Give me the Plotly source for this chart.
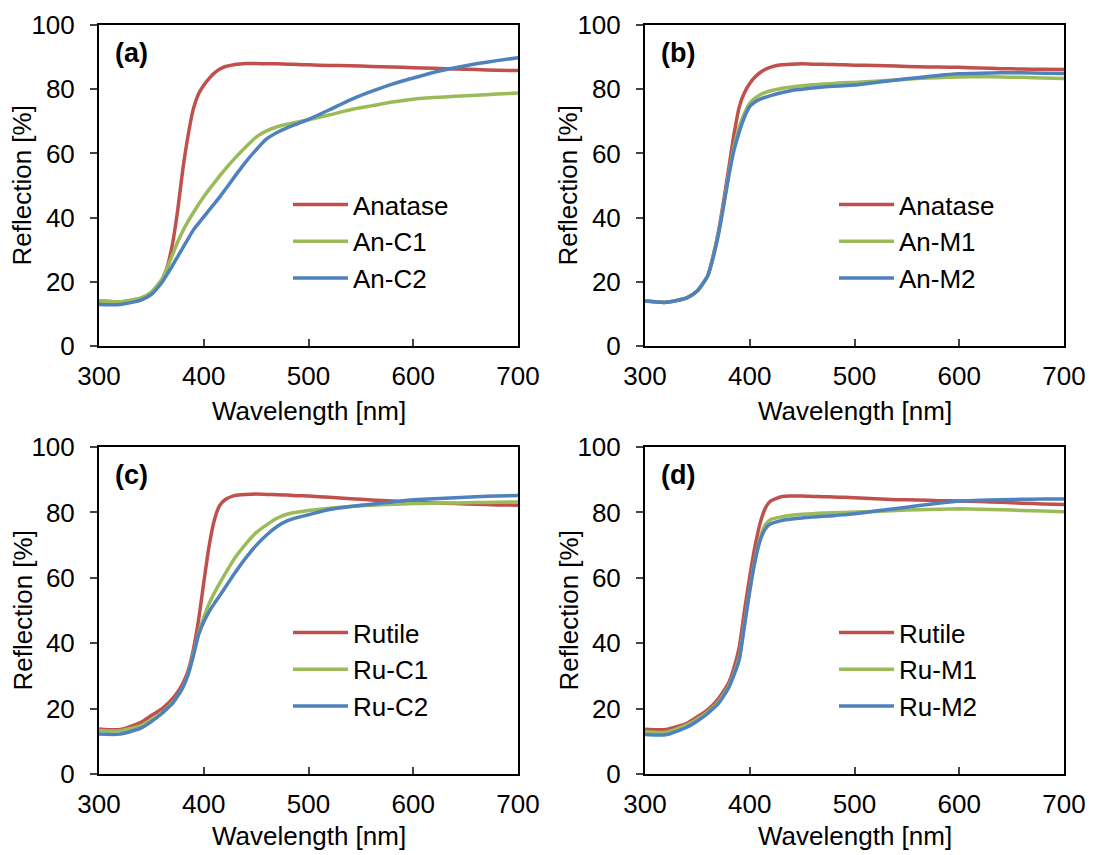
import plotly.graph_objects as go

# wavelength grid (nm)
wavelength = [300, 320, 340, 350, 360, 365, 370, 375, 380, 385, 390, 395, 400, 405, 410,
              415, 420, 430, 440, 450, 460, 470, 480, 490, 500, 520, 540, 560, 580, 600,
              620, 640, 660, 680, 700]

# (a)
anatase_a = [14.0, 13.8, 14.8, 16.3, 20.3, 24.5, 31.5, 42, 55, 65.5, 73.8, 78.5, 81.2, 83.3, 85,
             86.2, 87, 87.7, 88.0, 88.0, 87.9, 87.9, 87.8, 87.7, 87.6, 87.4, 87.3, 87.1, 86.9, 86.7,
             86.5, 86.3, 86.1, 85.9, 85.8]
an_c1 = [14.0, 13.8, 15.0, 16.8, 20.8, 24.3, 28.3, 32.3, 35.8, 38.8, 41.5, 44.1, 46.5, 48.7, 50.8,
         52.9, 54.9, 58.6, 62, 65.1, 67, 68.3, 69.1, 69.8, 70.5, 72, 73.6, 74.8, 76, 76.9,
         77.4, 77.8, 78.1, 78.5, 78.8]
an_c2 = [12.9, 12.9, 14.3, 16.1, 19.8, 22.3, 25, 27.8, 30.6, 33.4, 36.1, 38.2, 40.2, 42.3, 44.3,
         46.3, 48.5, 53, 57.3, 61.1, 64.5, 66.5, 68, 69.3, 70.6, 73.6, 76.7, 79.3, 81.6, 83.5,
         85.3, 86.7, 87.9, 88.9, 89.8]

# (b)
anatase_b = [14, 13.6, 15, 17.2, 22, 28, 35.5, 45, 55.5, 66, 74.5, 79, 81.8, 83.8, 85.2,
             86.2, 86.9, 87.6, 87.8, 87.9, 87.8, 87.8, 87.7, 87.6, 87.5, 87.4, 87.2, 87.0, 86.9, 86.8,
             86.6, 86.4, 86.3, 86.2, 86.1]
an_m1 = [14, 13.6, 15, 17.2, 22, 27.8, 35, 44, 53.6, 62, 68.3, 72.5, 75.6, 77.2, 78.3,
         79, 79.5, 80.2, 80.7, 81.1, 81.4, 81.6, 81.8, 82, 82.1, 82.5, 82.9, 83.3, 83.6, 83.8,
         83.9, 83.8, 83.7, 83.5, 83.3]
an_m2 = [14, 13.6, 15, 17.2, 22, 27.5, 34.5, 43.5, 53, 61, 66.7, 71.3, 74.6, 76, 76.9,
         77.5, 78, 78.9, 79.6, 80, 80.4, 80.7, 80.9, 81.1, 81.3, 82.1, 82.9, 83.6, 84.3, 84.8,
         85.0, 85.1, 85.1, 85.0, 84.9]

# (c)
rutile_c = [13.8, 13.6, 15.8, 17.9, 19.9, 21.3, 23, 25, 27.7, 31.5, 37.9, 47, 58.5, 69.5, 77.5,
            82, 83.8, 85.2, 85.5, 85.6, 85.5, 85.4, 85.3, 85.1, 85, 84.6, 84.2, 83.8, 83.5, 83.2,
            82.9, 82.7, 82.5, 82.3, 82.2]
ru_c1 = [13.3, 13.2, 14.8, 16.5, 18.8, 20.2, 21.8, 23.8, 26.5, 30.5, 36.5, 43, 47.8, 52, 55.3,
         58.2, 61, 66.2, 70.3, 73.8, 76.2, 78.2, 79.5, 80.1, 80.6, 81.3, 81.8, 82.2, 82.5, 82.7,
         82.8, 82.9, 83, 83.1, 83.2]
ru_c2 = [12.2, 12.2, 14, 16, 18.5, 20, 21.5, 23.8, 26.5, 30.3, 36, 42.5, 46.5, 49.6, 52.1,
         54.4, 56.8, 61.6, 66, 69.9, 73.1, 75.7, 77.5, 78.5, 79.3, 80.9, 81.8, 82.5, 83.2, 83.9,
         84.2, 84.5, 84.8, 85, 85.2]

# (d)
rutile_d = [13.7, 13.6, 15.5, 17.5, 19.7, 21.2, 23, 25.3, 28, 32.5, 38.8, 50, 60.4, 69.6, 76.8,
            81.4, 83.5, 84.8, 85, 85, 84.9, 84.8, 84.7, 84.6, 84.5, 84.2, 83.9, 83.8, 83.6, 83.5,
            83.3, 83.1, 82.8, 82.6, 82.4]
ru_m1 = [12.9, 12.8, 15, 16.8, 19, 20.4, 22, 24.3, 27, 30.8, 35.7, 46, 56.3, 65.5, 72.2,
         76.3, 77.8, 78.6, 79.1, 79.4, 79.6, 79.8, 79.9, 80, 80.1, 80.3, 80.6, 80.8, 81, 81.1,
         81, 80.8, 80.6, 80.4, 80.2]
ru_m2 = [12.1, 12, 14.3, 16.2, 18.5, 20, 21.5, 23.8, 26.5, 30.3, 35, 45.5, 56, 65, 71.5,
         75, 76.5, 77.5, 78, 78.3, 78.6, 78.8, 79, 79.3, 79.6, 80.4, 81.2, 82, 82.8, 83.5,
         83.7, 83.9, 84, 84.1, 84.1]

panels = [
    ("(a)", [("Anatase", anatase_a), ("An-C1", an_c1), ("An-C2", an_c2)]),
    ("(b)", [("Anatase", anatase_b), ("An-M1", an_m1), ("An-M2", an_m2)]),
    ("(c)", [("Rutile", rutile_c), ("Ru-C1", ru_c1), ("Ru-C2", ru_c2)]),
    ("(d)", [("Rutile", rutile_d), ("Ru-M1", ru_m1), ("Ru-M2", ru_m2)]),
]
colors = ["#C0504D", "#9BBB59", "#4F81BD"]

W, H = 1096, 855
xdom = [[99 / W, 518 / W], [645 / W, 1064 / W]]
ydom = [[1 - 346 / H, 1 - 25 / H], [1 - 774 / H, 1 - 447 / H]]
FONT = "Liberation Sans, Arial, sans-serif"

fig = go.Figure()
layout = {}
for i, (label, series) in enumerate(panels):
    n = "" if i == 0 else str(i + 1)
    row, col = divmod(i, 2)
    leg = "legend" + n
    for (name, vals), c in zip(series, colors):
        fig.add_trace(go.Scatter(x=wavelength, y=vals, name=name, mode="lines",
                                 line=dict(color=c, width=3.5, shape="spline", smoothing=0.6),
                                 xaxis="x" + n, yaxis="y" + n, legend=leg))
    layout["xaxis" + n] = dict(domain=xdom[col], anchor="y" + n, range=[300, 700],
                               tickvals=[300, 400, 500, 600, 700], ticks="inside", ticklen=7,
                               tickwidth=2, showline=True, linecolor="black", linewidth=2,
                               mirror=True, showgrid=False, zeroline=False, automargin=False,
                               ticklabelstandoff=6, tickfont=dict(size=26))
    layout["yaxis" + n] = dict(domain=ydom[row], anchor="x" + n, range=[0, 100],
                               tickvals=[0, 20, 40, 60, 80, 100], ticks="outside", ticklen=7,
                               tickwidth=2, showline=True, linecolor="black", linewidth=2,
                               mirror=True, showgrid=False, zeroline=False, automargin=False,
                               ticklabelstandoff=10, tickfont=dict(size=26))
    x0 = xdom[col][0] + 189 / W
    y0 = ydom[row][1] - (156 if row == 0 else 162) / H
    layout[leg] = dict(x=x0, y=y0, xanchor="left", yanchor="top", bgcolor="rgba(0,0,0,0)",
                       font=dict(size=26, color="black"), itemwidth=55)
    fig.add_annotation(text="<b>" + label + "</b>", xref="x" + n + " domain",
                       yref="y" + n + " domain", x=0.033, y=0.913, xanchor="left",
                       yanchor="middle", showarrow=False, font=dict(size=27, color="black"))
    # axis titles
    fig.add_annotation(text="Wavelength [nm]", xref="paper", yref="paper",
                       x=sum(xdom[col]) / 2, y=1 - (411 if row == 0 else 836) / H,
                       xanchor="center", yanchor="middle", showarrow=False,
                       font=dict(size=26, color="black"))
    fig.add_annotation(text="Reflection [%]", xref="paper", yref="paper", textangle=-90,
                       x=xdom[col][0] - 77 / W, y=sum(ydom[row]) / 2,
                       xanchor="center", yanchor="middle", showarrow=False,
                       font=dict(size=26, color="black"))

fig.update_layout(width=W, height=H, margin=dict(l=0, r=0, t=0, b=0),
                  paper_bgcolor="white", plot_bgcolor="white",
                  font=dict(family=FONT, size=26, color="black"), **layout)
fig.write_html("out.html", config={"displayModeBar": False},
               post_script="document.body.style.margin='0px';")
